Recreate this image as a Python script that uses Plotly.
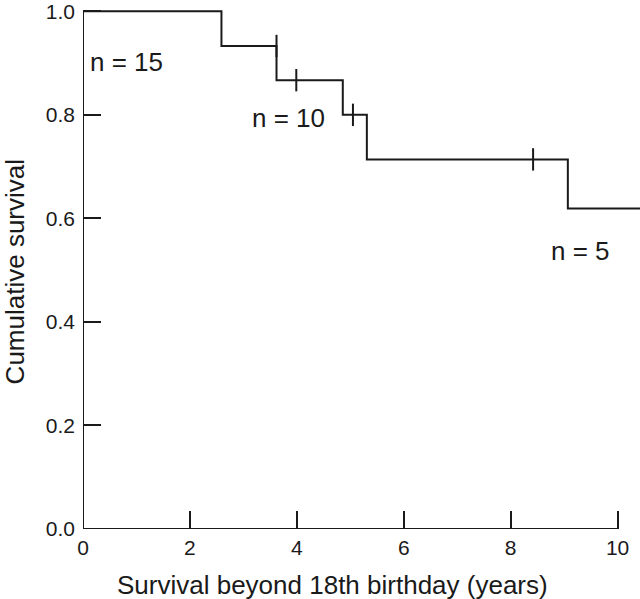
import plotly.graph_objects as go

# Kaplan-Meier step data
step_times = [0.0, 2.59, 3.62, 4.86, 5.31, 9.07, 10.6]
step_surv = [1.0, 0.933, 0.867, 0.80, 0.714, 0.619, 0.619]

# censored observations
censor_times = [3.62, 3.99, 5.05, 8.42]
censor_surv = [0.933, 0.867, 0.80, 0.714]

# group size labels
n_labels = ["n = 15", "n = 10", "n = 5"]
n_x = [0.82, 3.84, 9.31]
n_y = [0.902, 0.793, 0.537]

x_ticks = [0, 2, 4, 6, 8, 10]
y_ticks = [0.0, 0.2, 0.4, 0.6, 0.8, 1.0]
y_ticklabels = ["0.0", "0.2", "0.4", "0.6", "0.8", "1.0"]

FONT = "Liberation Sans, Arial, Helvetica, sans-serif"
INK = "#1a1a1a"

fig = go.Figure()
fig.add_trace(go.Scatter(
    x=step_times, y=step_surv, mode="lines",
    line=dict(shape="hv", color=INK, width=2),
    hoverinfo="skip", showlegend=False,
))
fig.add_trace(go.Scatter(
    x=censor_times, y=censor_surv, mode="markers",
    marker=dict(symbol="line-ns", size=16, line=dict(color=INK, width=2)),
    hoverinfo="skip", showlegend=False,
))

for t, xx, yy in zip(n_labels, n_x, n_y):
    fig.add_annotation(x=xx, y=yy, text=t, showarrow=False,
                       xanchor="center", yanchor="middle",
                       font=dict(family=FONT, size=26, color=INK))

# axis lines (x ends at 10, y ends at 1.0)
fig.add_shape(type="line", xref="x", yref="y", x0=0, x1=10, y0=0, y1=0,
              line=dict(color=INK, width=2))
fig.add_shape(type="line", xref="x", yref="y", x0=0, x1=0, y0=0, y1=1.0,
              line=dict(color=INK, width=2))

# axis titles
fig.add_annotation(xref="paper", yref="paper", x=0.448, y=-0.106,
                   text="Survival beyond 18th birthday (years)", showarrow=False,
                   xanchor="center", yanchor="middle",
                   font=dict(family=FONT, size=26, color=INK))
fig.add_annotation(xref="paper", yref="paper", x=-0.122, y=0.487,
                   text="Cumulative survival", showarrow=False, textangle=-90,
                   xanchor="center", yanchor="middle",
                   font=dict(family=FONT, size=26, color=INK))

fig.update_layout(
    width=640, height=599,
    margin=dict(l=83, r=0, t=0, b=70),
    paper_bgcolor="white", plot_bgcolor="white",
    font=dict(family=FONT, color=INK),
    xaxis=dict(range=[0, 10.42], tickvals=x_ticks, ticktext=[str(v) for v in x_ticks],
               ticks="inside", ticklen=18, tickwidth=1.5, tickcolor=INK,
               showgrid=False, zeroline=False, showline=False,
               ticklabeloverflow="allow",
               tickfont=dict(family=FONT, size=21, color=INK), ticklabelstandoff=4),
    yaxis=dict(range=[0, 1.018], tickvals=y_ticks, ticktext=y_ticklabels,
               ticks="inside", ticklen=18, tickwidth=1.5, tickcolor=INK,
               showgrid=False, zeroline=False, showline=False,
               ticklabeloverflow="allow",
               tickfont=dict(family=FONT, size=21, color=INK), ticklabelstandoff=7),
)

fig.write_html("out.html", config={"displayModeBar": False},
               post_script="document.body.style.margin='0';document.body.style.overflow='hidden';")
